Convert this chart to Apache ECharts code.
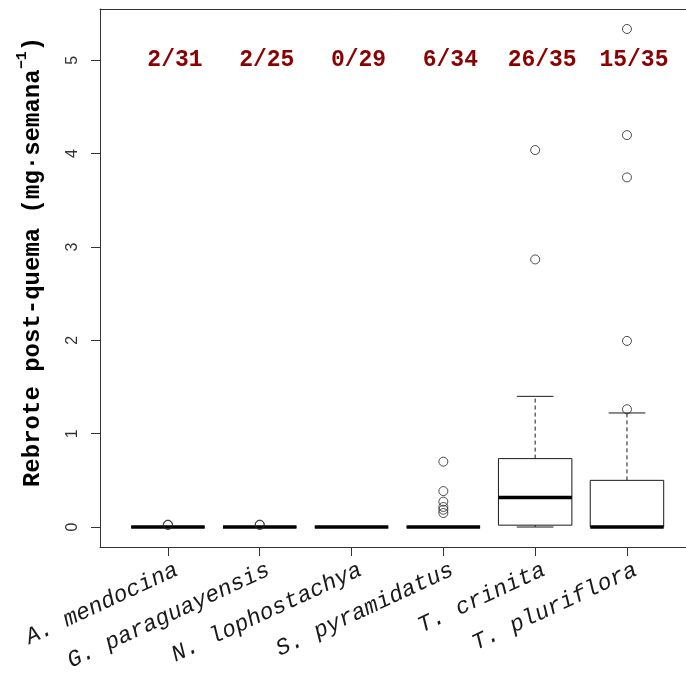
<!DOCTYPE html>
<html>
<head>
<meta charset="utf-8">
<script src="https://cdn.jsdelivr.net/npm/echarts@6/dist/echarts.min.js"></script>
<style>
  html, body { margin: 0; padding: 0; background: #fff; }
  #chart { width: 686px; height: 691px; }
</style>
</head>
<body>
<div id="chart"></div>
<script>
// Post-fire regrowth per species: box statistics, outliers and non-zero counts
const categories = ['A. mendocina', 'G. paraguayensis', 'N. lophostachya', 'S. pyramidatus', 'T. crinita', 'T. pluriflora'];
const whiskerLow  = [0, 0, 0, 0, 0, 0];
const quartile1   = [0, 0, 0, 0, 0.02, 0];
const medians     = [0, 0, 0, 0, 0.315, 0];
const quartile3   = [0, 0, 0, 0, 0.733, 0.50];
const whiskerHigh = [0, 0, 0, 0, 1.40, 1.222];
const outliers = [
  [0.026, 0.022],
  [0.026, 0.022],
  [],
  [0.70, 0.385, 0.272, 0.215, 0.185, 0.15],
  [2.867, 4.039],
  [1.262, 1.994, 3.746, 4.199, 5.336]
];
const nonZeroCounts = ['2/31', '2/25', '0/29', '6/34', '26/35', '15/35'];
const yTickValues = [0, 1, 2, 3, 4, 5];
const xTickValues = [1, 2, 3, 4, 5, 6];

const countLevel = 5;      // height at which the counts are written
const boxWidthUnits = 0.8; // box width in category units
const mono = '"Liberation Mono", "Courier New", Courier, monospace';
const ink = '#1a1a1a';
const frame = { show: true, onZero: false, lineStyle: { color: '#333', width: 1 } };

const boxData = categories.map((c, i) => [i + 1, whiskerLow[i], quartile1[i], medians[i], quartile3[i], whiskerHigh[i]]);
const outlierData = [];
outliers.forEach((vals, i) => vals.forEach(v => outlierData.push([i + 1, v])));
const countData = nonZeroCounts.map((t, i) => [i + 1, countLevel, t]);

const chart = echarts.init(document.getElementById('chart'), null, { renderer: 'canvas' });

function renderBox(params, api) {
  const x = api.value(0);
  const cx = api.coord([x, 0])[0];
  const bw = api.size([boxWidthUnits, 0])[0];
  const yLo = api.coord([x, api.value(1)])[1];
  const yQ1 = api.coord([x, api.value(2)])[1];
  const yMed = api.coord([x, api.value(3)])[1];
  const yQ3 = api.coord([x, api.value(4)])[1];
  const yHi = api.coord([x, api.value(5)])[1];
  const thin = { stroke: ink, lineWidth: 1, fill: null };
  const dashed = { stroke: ink, lineWidth: 1, lineDash: [4, 3], fill: null };
  return {
    type: 'group',
    children: [
      { type: 'line', shape: { x1: cx, y1: yQ3, x2: cx, y2: yHi }, style: dashed },
      { type: 'line', shape: { x1: cx, y1: yQ1, x2: cx, y2: yLo }, style: dashed },
      { type: 'line', shape: { x1: cx - bw / 4, y1: yHi, x2: cx + bw / 4, y2: yHi }, style: thin },
      { type: 'line', shape: { x1: cx - bw / 4, y1: yLo, x2: cx + bw / 4, y2: yLo }, style: thin },
      { type: 'rect', shape: { x: cx - bw / 2, y: yQ3, width: bw, height: yQ1 - yQ3 }, style: thin },
      { type: 'line', shape: { x1: cx - bw / 2, y1: yMed, x2: cx + bw / 2, y2: yMed }, style: { stroke: '#000', lineWidth: 3.5 } }
    ]
  };
}

function renderCount(params, api) {
  const p = api.coord([api.value(0), api.value(1)]);
  return {
    type: 'text',
    x: p[0] + 7,
    y: p[1],
    style: {
      text: nonZeroCounts[params.dataIndex],
      fill: '#8B0000',
      font: 'bold 23px ' + mono,
      align: 'center',
      verticalAlign: 'middle'
    }
  };
}

const option = {
  animation: false,
  backgroundColor: '#fff',
  grid: { left: 100, right: 0, top: 9, bottom: 144, show: false },
  xAxis: [
    {
      type: 'value',
      min: 0.26, max: 6.643,
      axisLine: frame,
      splitLine: { show: false },
      axisTick: { show: true, length: 9, customValues: xTickValues, lineStyle: { color: '#333' } },
      axisLabel: {
        customValues: xTickValues,
        formatter: v => categories[Math.round(v) - 1] || '',
        rotate: 25,
        margin: 26,
        padding: [0, -10, 0, 0],
        color: ink,
        fontFamily: mono,
        fontStyle: 'italic',
        fontSize: 23
      }
    },
    {
      type: 'value',
      position: 'top',
      min: 0.26, max: 6.643,
      axisLine: frame,
      axisTick: { show: false },
      axisLabel: { show: false },
      splitLine: { show: false }
    }
  ],
  yAxis: {
    type: 'value',
    min: -0.214, max: 5.55,
    axisLine: frame,
    splitLine: { show: false },
    axisTick: { show: true, length: 9, customValues: yTickValues, lineStyle: { color: '#333' } },
    axisLabel: {
      customValues: yTickValues,
      rotate: 90,
      margin: 19,
      color: '#333',
      fontFamily: '"Liberation Sans", Arial, sans-serif',
      fontSize: 16
    }
  },
  graphic: [{
    type: 'text',
    x: 30,
    y: 262,
    rotation: Math.PI / 2,
    style: {
      text: '{t|Rebrote post-quema (mg·semana}{s|−1}{t|)}',
      align: 'center',
      verticalAlign: 'middle',
      rich: {
        t: { font: 'bold 24px ' + mono, fill: '#000', lineHeight: 30, verticalAlign: 'bottom' },
        s: { font: 'bold 15px ' + mono, fill: '#000', lineHeight: 30, verticalAlign: 'top' }
      }
    }
  }],
  series: [
    {
      type: 'custom',
      renderItem: renderBox,
      data: boxData,
      encode: { x: 0, y: [1, 2, 3, 4, 5] },
      silent: true,
      z: 2
    },
    {
      type: 'scatter',
      data: outlierData,
      symbol: 'circle',
      symbolSize: 9,
      itemStyle: { color: 'rgba(0,0,0,0)', borderColor: '#222', borderWidth: 1 },
      silent: true,
      z: 3
    },
    {
      type: 'custom',
      renderItem: renderCount,
      data: countData,
      encode: { x: 0, y: 1 },
      silent: true,
      z: 4
    }
  ]
};

chart.setOption(option);
</script>
</body>
</html>
